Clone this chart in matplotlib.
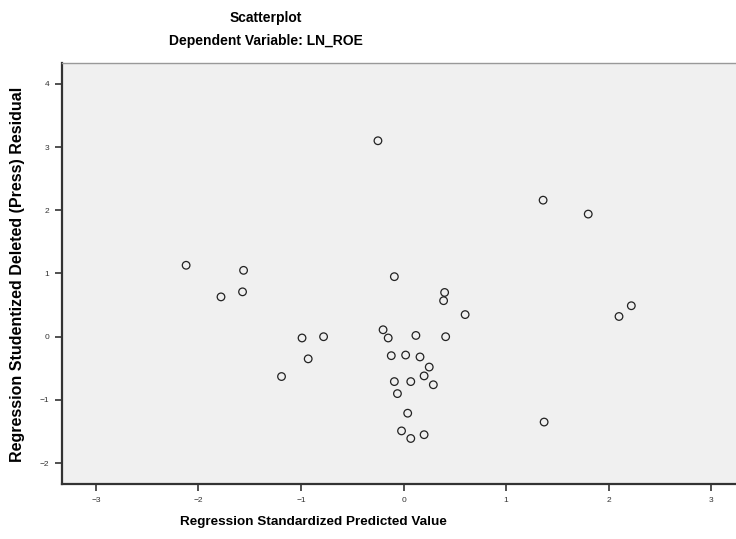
import numpy as np
import matplotlib
matplotlib.use("Agg")
import matplotlib.pyplot as plt

plt.rcParams['font.family'] = ['Liberation Sans', 'DejaVu Sans']

# regression standardized predicted value
pred = [-2.12, -1.56, -1.78, -1.57, -0.25, -0.09, -0.99, -0.78, -0.93, -1.19,
        -0.20, -0.15, 0.12, 0.41, -0.12, 0.02, 0.16, 0.25, 0.20, 0.29,
        -0.09, 0.07, -0.06, 0.04, -0.02, 0.07, 0.20, 0.40, 0.39, 0.60,
        1.36, 1.80, 2.22, 2.10, 1.37]
# studentized deleted (press) residual
resid = [1.13, 1.05, 0.63, 0.71, 3.10, 0.95, -0.02, 0.00, -0.35, -0.63,
         0.11, -0.02, 0.02, 0.00, -0.30, -0.29, -0.32, -0.48, -0.62, -0.76,
         -0.71, -0.71, -0.90, -1.21, -1.49, -1.61, -1.55, 0.70, 0.57, 0.35,
         2.16, 1.94, 0.49, 0.32, -1.35]

xticks = [-3, -2, -1, 0, 1, 2, 3]
yticks = [-2, -1, 0, 1, 2, 3, 4]

fig = plt.figure(figsize=(7.36, 5.39), dpi=100)
ax = fig.add_axes([62/736, 55/539, 676/736, 421/539])
ax.set_facecolor('#f0f0f0')

ax.scatter(pred, resid, s=30, facecolors='none', edgecolors='#222222', linewidths=0.9)

ax.set_xlim(-3.33, 3.26)
ax.set_ylim(-2.33, 4.33)
ax.set_xticks(xticks)
ax.set_yticks(yticks)
ax.tick_params(labelsize=6, colors='#333333', length=5, width=1.2, pad=4)

for s in ['left', 'bottom']:
    ax.spines[s].set_linewidth(1.6)
    ax.spines[s].set_color('#333333')
ax.spines['top'].set_color('#999999')
ax.spines['top'].set_linewidth(1.0)
ax.spines['right'].set_visible(False)

fig.text(266/736, 1 - 18/539, 'Scatterplot', ha='center', va='center',
         fontsize=10, fontweight='bold')
fig.text(266/736, 1 - 41/539, 'Dependent Variable: LN_ROE', ha='center', va='center',
         fontsize=10, fontweight='bold')
fig.text(313/736, 1 - 522/539, 'Regression Standardized Predicted Value',
         ha='center', va='center', fontsize=9.7, fontweight='bold')
fig.text(18/736, 1 - 274/539, 'Regression Studentized Deleted (Press) Residual',
         ha='center', va='center', rotation=90, fontsize=11.5, fontweight='bold')

fig.savefig('out.png', dpi=100)
